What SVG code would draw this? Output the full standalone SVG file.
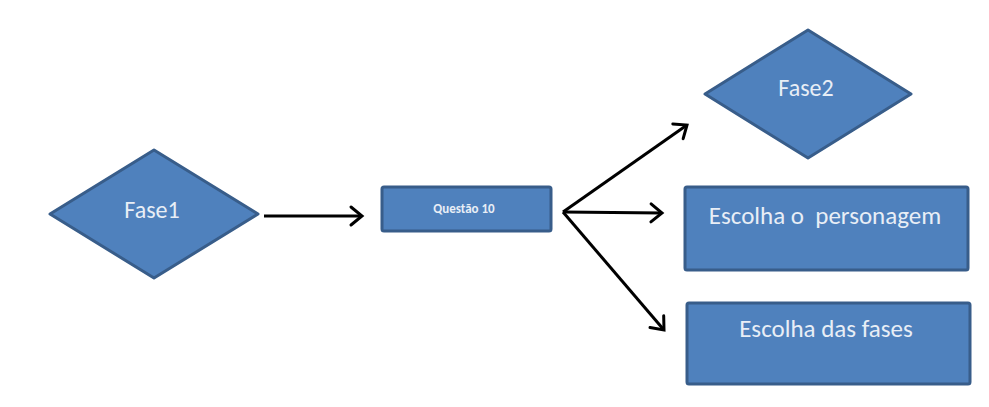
<svg xmlns="http://www.w3.org/2000/svg" width="989" height="407" viewBox="0 0 989 407">
<defs>
<style>
.shape{fill:#4F81BD;stroke:#385D8A;stroke-width:3;stroke-linejoin:round}
.lbl{font-family:Calibri,Carlito,"Liberation Sans",Arial,sans-serif;fill:#E8EEF6;text-anchor:middle;white-space:pre}
.conn{stroke:#000;stroke-width:3;fill:none}
</style>
<marker id="arr" markerWidth="12" markerHeight="12" refX="10" refY="6" orient="auto" markerUnits="userSpaceOnUse" viewBox="0 0 12 12" overflow="visible">
<path d="M-1,-3 L10,6 L-1,15" fill="none" stroke="#000" stroke-width="3" stroke-linecap="round" stroke-linejoin="miter"/>
</marker>
</defs>
<rect width="989" height="407" fill="#fff"/>
<g id="fase1">
<polygon class="shape" points="154,150 258,214 154,278 50,214"/>
<text class="lbl" x="152" y="218" font-size="24">Fase1</text>
</g>
<g id="questao10">
<rect class="shape" x="382" y="187" width="169" height="44" rx="2"/>
<text class="lbl" x="464" y="213" font-size="13" font-weight="bold">Questão 10</text>
</g>
<g id="fase2">
<polygon class="shape" points="808,30 911,94 808,158 705,94"/>
<text class="lbl" x="806" y="96" font-size="24">Fase2</text>
</g>
<g id="personagem">
<rect class="shape" x="685" y="187" width="283" height="83" rx="2"/>
<text class="lbl" x="825" y="224" font-size="25" xml:space="preserve">Escolha o  personagem</text>
</g>
<g id="fases">
<rect class="shape" x="687" y="303" width="283" height="81" rx="2"/>
<text class="lbl" x="826" y="337" font-size="25">Escolha das fases</text>
</g>
<g id="connectors">
<line class="conn" x1="264" y1="216" x2="362" y2="216" marker-end="url(#arr)"/>
<line class="conn" x1="563" y1="212" x2="687" y2="125" marker-end="url(#arr)"/>
<line class="conn" x1="563" y1="212" x2="662" y2="213" marker-end="url(#arr)"/>
<line class="conn" x1="563" y1="212" x2="664" y2="330" marker-end="url(#arr)"/>
</g>
</svg>
